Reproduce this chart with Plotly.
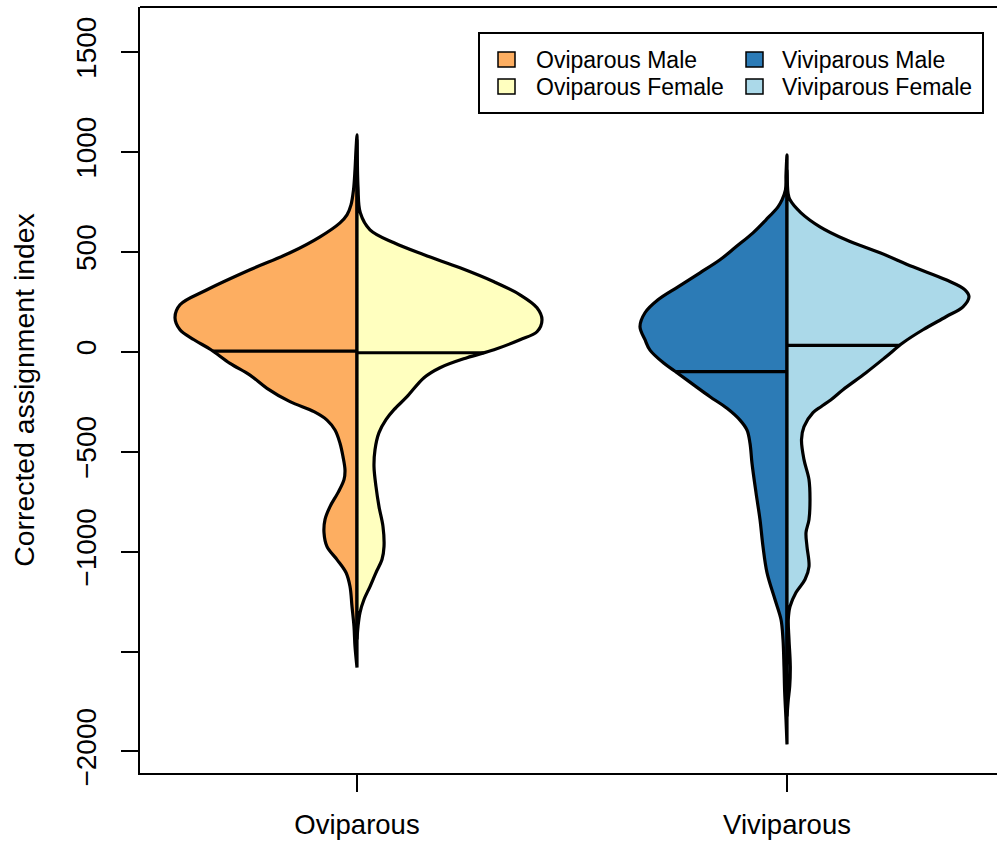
import numpy as np
import plotly.graph_objects as go

# ---------------- data ----------------
groups = ["Oviparous", "Viviparous"]
legend_labels = ["Oviparous Male", "Oviparous Female", "Viviparous Male", "Viviparous Female"]

# y values (corrected assignment index) and estimated kernel-density half widths
ovi_male_y = [1085, 1010, 910, 810, 735, 685, 645, 575, 495, 410, 310, 235, 170, 110, 60, 10,
              -58, -117, -183, -250, -300, -342, -392, -458, -525, -592, -640, -705, -775, -840,
              -905, -975, -1040, -1105, -1175, -1275, -1375, -1475, -1580]
ovi_male_d = [0, 1, 2, 3.5, 6, 10, 17, 37, 67, 107, 150, 177, 182, 177, 163, 146,
              127, 107, 90, 67, 43, 30, 22, 17, 14, 12, 13, 19, 27, 32,
              33, 30, 20, 11, 7, 5, 3, 2, 0]

ovi_female_y = [1060, 825, 695, 610, 545, 485, 420, 350, 285, 220, 160, 100, 60, 10, -30, -80,
                -130, -225, -290, -340, -405, -490, -575, -675, -775, -875, -975, -1040,
                -1105, -1175, -1240, -1305, -1375, -1440]
ovi_female_d = [0, 1, 3.3, 13, 37, 67, 103, 137, 163, 180, 185, 180, 163, 137, 110, 83,
                67, 50, 37, 29, 22, 18, 17, 19, 22, 26, 27, 25,
                19, 13, 7, 3, 1, 0]

vivi_male_y = [985, 885, 810, 760, 725, 660, 595, 525, 460, 395, 325, 260, 195, 125, 60, 8,
               -58, -105, -167, -225, -283, -342, -392, -458, -558, -705, -840, -975, -1105,
               -1240, -1340, -1440, -1575, -1705, -1840, -1965]
vivi_male_d = [0, 1, 1.5, 5, 9, 21, 34, 51, 67, 87, 109, 129, 142, 147, 142, 137,
               123, 110, 93, 77, 60, 47, 40, 37, 35, 31, 27, 24, 20,
               12, 6, 4, 3, 2.3, 1, 0]

vivi_female_y = [910, 795, 760, 695, 625, 560, 495, 425, 360, 310, 275, 225, 175, 110, 45, -25,
                 -105, -190, -240, -275, -305, -375, -440, -540, -640, -740, -840, -905, -975,
                 -1075, -1140, -1205, -1275, -1340, -1440, -1575, -1675, -1740, -1825]
vivi_female_d = [0, 1, 3, 14, 33, 59, 93, 126, 159, 178, 182, 176, 159, 136, 116, 99,
                 79, 56, 44, 34, 26, 17, 14.5, 17, 22, 23, 22, 19, 20,
                 22, 18, 9, 3, 1.3, 2, 3.3, 2.7, 1.3, 0]

medians = [3, -5, -100, 32]   # OM, OF, VM, VF

y_tick_vals = [1500, 1000, 500, 0, -500, -1000, -1500, -2000]
y_tick_text = ["1500", "1000", "500", "0", "\u2212500", "\u22121000", "", "\u22122000"]

colors = ["#FDAE61", "#FFFFBF", "#2C7BB6", "#ABD9E9"]

# ---------------- layout constants ----------------
W, H = 997, 846
ML, MR, MT, MB = 140, 0, 7, 73
WSCALE = 1 / 430.0       # density units -> x-axis units
FONT = "Liberation Sans, Arial, Helvetica, sans-serif"
LW = 3.2

fig = go.Figure()

halves = [
    (1, ovi_male_y, ovi_male_d, -1, colors[0], medians[0]),
    (1, ovi_female_y, ovi_female_d, 1, colors[1], medians[1]),
    (2, vivi_male_y, vivi_male_d, -1, colors[2], medians[2]),
    (2, vivi_female_y, vivi_female_d, 1, colors[3], medians[3]),
]

for (center, ys, ds, sgn, col, med), name in zip(halves, legend_labels):
    ys = np.asarray(ys, float)
    ds = np.asarray(ds, float)
    xs = list(center + sgn * ds * WSCALE) + [center] * len(ys)
    yy = list(ys) + list(ys[::-1])
    fig.add_trace(go.Scatter(x=xs, y=yy, mode="lines", fill="toself", fillcolor=col,
                             line=dict(color="black", width=LW, shape="spline", smoothing=1.0),
                             name=name, showlegend=False, hoverinfo="skip"))

for (center, ys, ds, sgn, col, med), name in zip(halves, legend_labels):
    ys = np.asarray(ys, float)
    ds = np.asarray(ds, float)
    wmed = np.interp(med, ys[::-1], ds[::-1])
    fig.add_trace(go.Scatter(x=[center, center + sgn * wmed * WSCALE], y=[med, med],
                             mode="lines", line=dict(color="black", width=LW),
                             showlegend=False, hoverinfo="skip", name=name + " median"))

PW = W - ML - MR
PH = H - MT - MB


def pxx(x):
    return (x - ML) / PW


def pxy(y):
    return (H - MB - y) / PH


shapes = []
# top border of the plot box (right side falls beyond the image)
shapes.append(dict(type="line", xref="paper", yref="paper", x0=0, x1=1, y0=1, y1=1,
                   line=dict(color="black", width=2)))
# legend box
shapes.append(dict(type="rect", xref="paper", yref="paper", x0=pxx(479), x1=pxx(983),
                   y0=pxy(113), y1=pxy(33), line=dict(color="black", width=2),
                   fillcolor="white", layer="above"))
annotations = []
leg_pos = [(498, 52, 536, 60), (498, 79, 536, 87), (746, 52, 782, 60), (746, 79, 782, 87)]
for (sx, sy, tx, ty), lab, col in zip(leg_pos, legend_labels, colors):
    shapes.append(dict(type="rect", xref="paper", yref="paper", x0=pxx(sx), x1=pxx(sx + 17),
                       y0=pxy(sy + 15), y1=pxy(sy), fillcolor=col,
                       line=dict(color="black", width=1.5), layer="above"))
    annotations.append(dict(xref="paper", yref="paper", x=pxx(tx - 2), y=pxy(ty), text=lab,
                            showarrow=False, xanchor="left", yanchor="middle",
                            font=dict(size=23, color="black", family=FONT)))

fig.update_layout(
    width=W, height=H,
    margin=dict(l=ML, r=MR, t=MT, b=MB, pad=0),
    paper_bgcolor="white", plot_bgcolor="white",
    font=dict(family=FONT, color="black"),
    shapes=shapes, annotations=annotations,
    showlegend=False,
    xaxis=dict(range=[1 - 217 / 430, 2 + 210 / 430], tickvals=[1, 2], ticktext=groups,
               showline=True, linecolor="black", linewidth=2, ticks="outside",
               ticklen=17, tickwidth=2, tickcolor="black", showgrid=False, zeroline=False,
               ticklabelstandoff=9,
               tickfont=dict(size=27.5, family=FONT, color="black"), fixedrange=True),
    yaxis=dict(range=[-2108, 1725], tickvals=y_tick_vals, ticktext=y_tick_text,
               tickangle=-90, showline=True, linecolor="black", linewidth=2,
               ticks="outside", ticklen=17, tickwidth=2, tickcolor="black",
               showgrid=False, zeroline=False, ticklabelstandoff=14,
               tickfont=dict(size=28, family=FONT, color="black"),
               title=dict(text="Corrected assignment index", standoff=28,
                          font=dict(size=28.4, family=FONT, color="black")),
               fixedrange=True),
)

fig.write_html("out.html", config={"displayModeBar": False},
               post_script="document.body.style.margin='0px';document.body.style.padding='0px';")
